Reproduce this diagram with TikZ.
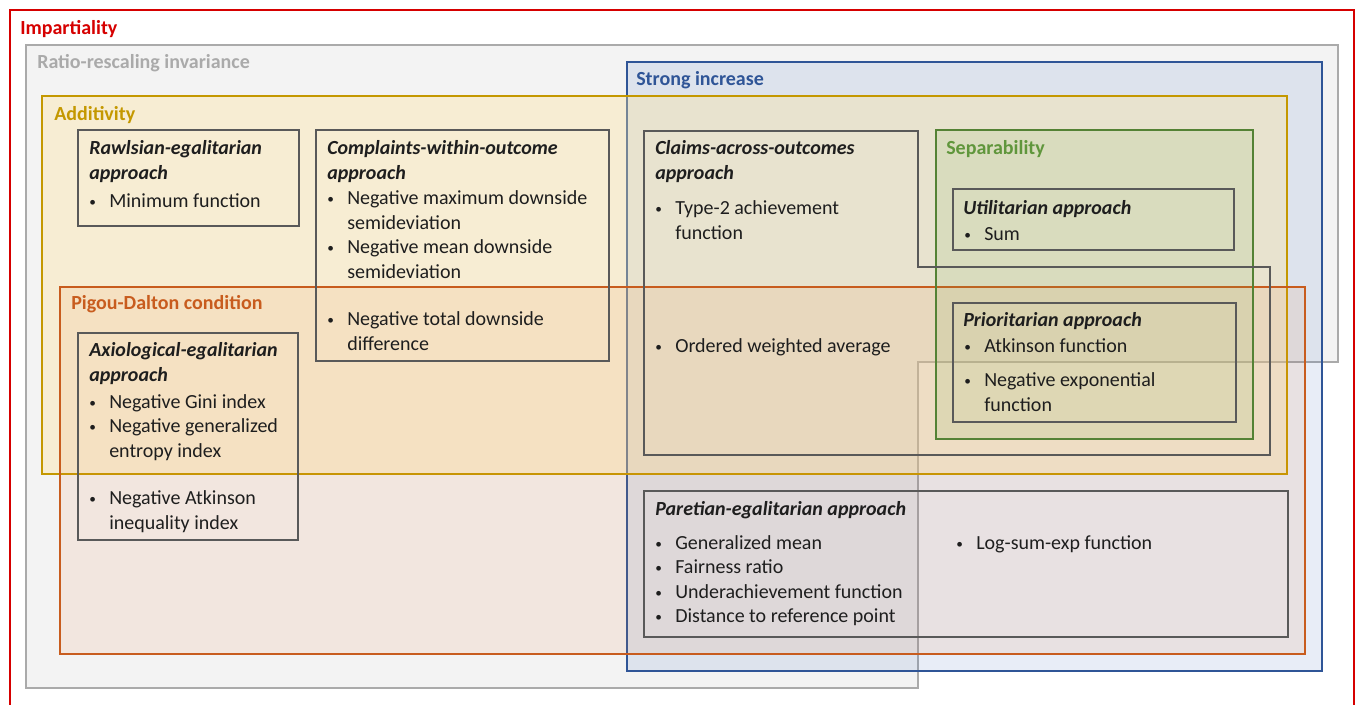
\documentclass[tikz,border=0pt]{standalone}
\usepackage{fontspec}
\setmainfont{Carlito}
\definecolor{cred}{RGB}{214,0,0}
\definecolor{cgray}{RGB}{170,170,170}
\definecolor{cgrayfill}{RGB}{243,243,243}
\definecolor{cblue}{RGB}{47,85,151}
\definecolor{cbluefill}{RGB}{68,114,196}
\definecolor{cgold}{RGB}{196,152,0}
\definecolor{cgoldfill}{RGB}{255,228,150}
\definecolor{corange}{RGB}{200,92,30}
\definecolor{corangefill}{RGB}{237,125,49}
\definecolor{cgreen}{RGB}{84,130,53}
\definecolor{cgreenlbl}{RGB}{96,150,60}
\definecolor{cgreenfill}{RGB}{112,173,71}
\definecolor{cbox}{RGB}{89,89,89}
\definecolor{txt}{RGB}{30,30,30}
\newcommand{\bl}{\llap{{\fontsize{10}{10}\selectfont\raisebox{0.5pt}{\textbullet}}\hspace{10pt}}}
\newcommand{\fs}{\fontsize{15}{18.4}\selectfont}
\begin{document}
\begin{tikzpicture}[x=0.75pt,y=-0.75pt,
  font=\fs,
  region/.style={line width=2.0pt},
  abox/.style={draw=cbox,line width=2.0pt},
  lbl/.style={anchor=base west,font=\fs\bfseries,inner sep=0pt},
  ttl/.style={anchor=base west,font=\fs\bfseries\itshape,inner sep=0pt,text=txt,align=left},
  itm/.style={anchor=base west,font=\fs,inner sep=0pt,text=txt,align=left}]
\useasboundingbox (0,0) rectangle (1362,704);
\fill[white] (0,0) rectangle (1362,704);
% Impartiality
\draw[cred,region] (10,10) rectangle (1354,730);
% Ratio-rescaling invariance
\draw[region,draw=cgray,fill=cgrayfill] (26,45) -- (1338,45) -- (1338,362) -- (918,362) -- (918,688) -- (26,688) -- cycle;
% Strong increase
\draw[region,draw=cblue,fill=cbluefill,fill opacity=0.12] (627,62) rectangle (1322,671);
% Additivity
\draw[region,draw=cgold,fill=cgoldfill,fill opacity=0.34] (42,96) rectangle (1287,474);
% Pigou-Dalton
\draw[region,draw=corange,fill=corangefill,fill opacity=0.1] (60,287) rectangle (1305,654);
% Separability
\draw[region,draw=cgreen,fill=cgreenfill,fill opacity=0.12] (936,130) rectangle (1253,439);
% boxes
\draw[abox] (78,130) rectangle (299,226);
\draw[abox] (316,130) rectangle (609,361);
\draw[abox] (78,333) rectangle (298,540);
\draw[abox] (644,131) -- (918,131) -- (918,267) -- (1270,267) -- (1270,455) -- (644,455) -- cycle;
\draw[abox] (953,189) rectangle (1234,250);
\draw[abox] (953,303) rectangle (1236,422);
\draw[abox] (644,491) rectangle (1288,637);
% region labels
\node[lbl,text=cred] (limp) at (20,34) {Impartiality};
\node[lbl,text=cgray] (lrat) at (37,68) {Ratio-rescaling invariance};
\node[lbl,text=cblue] (lstr) at (636,85) {Strong increase};
\node[lbl,text=cgold] (ladd) at (54,120) {Additivity};
\node[lbl,text=corange] (lpig) at (71,309) {Pigou-Dalton condition};
\node[lbl,text=cgreenlbl] (lsep) at (946,154) {Separability};
% Rawlsian
\node[ttl] (rawt) at (89,179) {Rawlsian-egalitarian\\approach};
\node[itm] (raw1) at (109,207) {\bl Minimum function};
% Complaints
\node[ttl] (comt) at (327,179) {Complaints-within-outcome\\approach};
\node[itm] (com1) at (347,229) {\bl Negative maximum downside\\semideviation};
\node[itm] (com2) at (347,278) {\bl Negative mean downside\\semideviation};
\node[itm] (com3) at (347,350) {\bl Negative total downside\\difference};
% Axiological
\node[ttl] (axit) at (89,381) {Axiological-egalitarian\\approach};
\node[itm] (axi1) at (109,408) {\bl Negative Gini index};
\node[itm] (axi2) at (109,457) {\bl Negative generalized\\entropy index};
\node[itm] (axi3) at (109,529) {\bl Negative Atkinson\\inequality index};
% Claims
\node[ttl] (clat) at (655,179) {Claims-across-outcomes\\approach};
\node[itm] (cla1) at (675,239) {\bl Type-2 achievement\\function};
\node[itm] (cla2) at (675,352) {\bl Ordered weighted average};
% Utilitarian
\node[ttl] (utit) at (963,214) {Utilitarian approach};
\node[itm] (uti1) at (984,240) {\bl Sum};
% Prioritarian
\node[ttl] (prit) at (963,326) {Prioritarian approach};
\node[itm] (pri1) at (984,352) {\bl Atkinson function};
\node[itm] (pri2) at (984,411) {\bl Negative exponential\\function};
% Paretian
\node[ttl] (part) at (655,515) {Paretian-egalitarian approach};
\node[itm] (par1) at (675,549) {\bl Generalized mean};
\node[itm] (par2) at (675,573) {\bl Fairness ratio};
\node[itm] (par3) at (675,598) {\bl Underachievement function};
\node[itm] (par4) at (675,622) {\bl Distance to reference point};
\node[itm] (par5) at (976,549) {\bl Log-sum-exp function};
\end{tikzpicture}
\end{document}
